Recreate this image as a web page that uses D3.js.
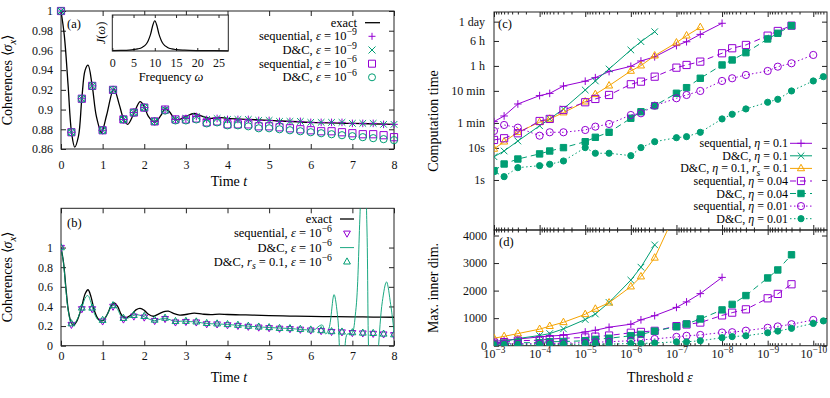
<!DOCTYPE html>
<html>
<head>
<meta charset="utf-8">
<script src="https://cdn.jsdelivr.net/npm/d3@7"></script>
<style>
  body { margin: 0; background: #fff; }
  svg { font-family: "Liberation Serif", "Times New Roman", serif; }
</style>
</head>
<body>
<div id="wrapper"></div>
<script>
// ---------- panel (a) ----------
const timeGrid = [0, 0.25, 0.5, 0.75, 1, 1.25, 1.5, 1.75, 2, 2.25, 2.5, 2.75, 3, 3.25, 3.5, 3.75, 4,
  4.25, 4.5, 4.75, 5, 5.25, 5.5, 5.75, 6, 6.25, 6.5, 6.75, 7, 7.25, 7.5, 7.75, 8]

const seqA9 = [1.0, 0.877, 0.911, 0.924, 0.879, 0.920, 0.890, 0.897, 0.902, 0.888, 0.900, 0.890, 0.891, 0.893,
  0.890, 0.891, 0.890, 0.890, 0.890, 0.889, 0.889, 0.888, 0.888, 0.888, 0.887, 0.887, 0.887, 0.887,
  0.886, 0.886, 0.886, 0.885, 0.885]
const dcA9 = [1.0, 0.877, 0.911, 0.924, 0.879, 0.920, 0.890, 0.897, 0.902, 0.888, 0.900, 0.890, 0.891, 0.893,
  0.890, 0.891, 0.890, 0.890, 0.890, 0.889, 0.889, 0.888, 0.888, 0.888, 0.887, 0.887, 0.887, 0.887,
  0.886, 0.886, 0.886, 0.885, 0.885]
const seqA6 = [1.0, 0.877, 0.911, 0.924, 0.879, 0.920, 0.890, 0.897, 0.902, 0.888, 0.900,
  0.890, 0.890, 0.891, 0.887, 0.888, 0.885, 0.885, 0.885, 0.883, 0.883, 0.882, 0.881, 0.880,
  0.879, 0.878, 0.878, 0.877, 0.876, 0.875, 0.875, 0.874, 0.872]
const dcA6 = [1.0, 0.877, 0.911, 0.924, 0.879, 0.920, 0.890, 0.897, 0.902, 0.888, 0.899,
  0.889, 0.889, 0.890, 0.886, 0.887, 0.884, 0.884, 0.883, 0.881, 0.881, 0.880, 0.879, 0.878,
  0.877, 0.876, 0.875, 0.874, 0.873, 0.872, 0.871, 0.870, 0.869]

const exactAT = [0, 0.08, 0.17, 0.25, 0.33, 0.42, 0.5, 0.58, 0.65, 0.75, 0.85, 0.97, 1.0, 1.1, 1.27, 1.4, 1.5,
  1.6, 1.75, 1.9, 2.0, 2.1, 2.25, 2.4, 2.5, 2.6, 2.75, 2.85, 3.0, 3.2, 3.4, 3.6, 3.8, 4.0, 4.5, 5, 6, 7, 8]
const exactAV = [1.0, 0.975, 0.925, 0.878, 0.862, 0.873, 0.911, 0.940, 0.945, 0.924, 0.893, 0.877, 0.879, 0.895,
  0.921, 0.905, 0.891, 0.885, 0.896, 0.908, 0.903, 0.893, 0.887, 0.894, 0.901, 0.898, 0.890, 0.890, 0.893,
  0.896, 0.893, 0.891, 0.892, 0.891, 0.890, 0.889, 0.887, 0.886, 0.885]

const specOmega = [0, 2, 4, 5, 6, 7, 8, 8.5, 9, 9.5, 10, 10.5, 11, 11.5, 12, 13, 14, 15, 17, 20, 24, 27.3]
const specJ = [0.01, 0.016, 0.027, 0.039, 0.059, 0.1, 0.195, 0.3, 0.46, 0.7, 0.84, 0.7, 0.46, 0.3, 0.195,
  0.1, 0.059, 0.039, 0.022, 0.012, 0.008, 0.006]

// ---------- panel (b) ----------
const seqB6 = [1.0, 0.215, 0.375, 0.375, 0.25, 0.40, 0.27, 0.30, 0.29, 0.255, 0.275, 0.24, 0.245, 0.24, 0.222,
  0.22, 0.212, 0.205, 0.196, 0.188, 0.182, 0.176, 0.172, 0.166, 0.158, 0.152, 0.143, 0.139, 0.132, 0.128,
  0.124, 0.118, 0.111]
const dcRsB6 = [1.0, 0.225, 0.385, 0.385, 0.26, 0.41, 0.28, 0.31, 0.30, 0.262, 0.282, 0.248, 0.25, 0.244, 0.228,
  0.224, 0.217, 0.21, 0.2, 0.192, 0.186, 0.178, 0.176, 0.168, 0.162, 0.155, 0.145, 0.141, 0.134, 0.13,
  0.127, 0.12, 0.113]

const exactBT = [0, 0.06, 0.12, 0.18, 0.25, 0.3, 0.38, 0.5, 0.58, 0.65, 0.72, 0.8, 0.9, 1.0, 1.1, 1.2, 1.28,
  1.36, 1.46, 1.56, 1.7, 1.8, 1.9, 2.0, 2.1, 2.22, 2.35, 2.5, 2.58, 2.7, 2.85, 3.0, 3.2, 3.4, 3.6, 3.8,
  4.0, 4.3, 4.6, 5.0, 5.5, 6.0, 6.5, 7.0, 7.5, 8.0]
const exactBV = [1, 0.85, 0.58, 0.35, 0.23, 0.21, 0.25, 0.40, 0.53, 0.57, 0.50, 0.36, 0.27, 0.255, 0.31, 0.40,
  0.435, 0.40, 0.31, 0.285, 0.32, 0.365, 0.38, 0.36, 0.32, 0.30, 0.325, 0.35, 0.352, 0.33, 0.312, 0.318,
  0.332, 0.322, 0.316, 0.322, 0.318, 0.314, 0.312, 0.306, 0.302, 0.299, 0.296, 0.294, 0.292, 0.29]

const dcBT = [0, 0.06, 0.12, 0.18, 0.25, 0.3, 0.38, 0.5, 0.6, 0.65, 0.72, 0.8, 0.9, 1.0, 1.1, 1.2, 1.27, 1.36,
  1.46, 1.56, 1.7, 1.8, 1.9, 2.0, 2.12, 2.25, 2.38, 2.5, 2.62, 2.75, 2.88, 3.0, 3.12, 3.25, 3.5, 3.75, 4.0,
  4.5, 5.0, 5.5, 6.0, 6.1, 6.2, 6.28, 6.36, 6.44, 6.56, 6.65, 6.73, 6.8, 6.88, 6.98, 7.08, 7.18, 7.27,
  7.35, 7.43, 7.52, 7.62, 7.72, 7.82, 7.92, 8.0]
const dcBV = [1, 0.84, 0.56, 0.34, 0.225, 0.215, 0.26, 0.39, 0.5, 0.51, 0.44, 0.33, 0.26, 0.255, 0.31, 0.39,
  0.41, 0.37, 0.29, 0.275, 0.3, 0.315, 0.31, 0.295, 0.27, 0.255, 0.27, 0.28, 0.265, 0.245, 0.25, 0.25,
  0.245, 0.242, 0.226, 0.222, 0.216, 0.199, 0.185, 0.175, 0.16, 0.165, 0.2, 0.21, 0.12, 0.18, 0.52, 0.28,
  -0.2, -0.1, 0.12, 0.12, 0.35, 1.3, 2.4, 1.2, -0.4, -0.6, -0.05, 0.45, 0.65, 0.42, 0.15]

// ---------- panels (c) and (d) ----------
const epsGrid = [1e-3, 6e-4, 3e-4, 1e-4, 6e-5, 3e-5, 1e-5, 6e-6, 3e-6, 1e-6, 6e-7, 3e-7, 1e-7, 6e-8, 3e-8,
  1e-8, 6e-9, 3e-9, 1e-9, 6e-10, 3e-10, 1e-10, 6e-11]

// computation time in seconds
const timeSeq01 = [66, 99, 234, 427, 501, 851, 1202, 1549, 2399, 3500, 5129, 6918, 15488, 20417, 34674, 76913]
const timeDc01 = [5.3, 8.0, 16.4, 49, 80, 164, 640, 1222, 2891, 11324, 20512, 42073]
const timeDcRs01 = [9.3, 15.6, 30.7, 63, 80, 126, 277, 470, 871, 2506, 3673, 7516, 19099, 31623, 57810]
const timeSeq004 = [17.7, 20, 28.6, 69, 80, 152, 265, 336, 447, 964, 1164, 1663, 3177, 3855, 4898, 8933,
  12794, 16218, 31623, 44260, 64736]
const timeDc004 = [1.95, 3.15, 4.5, 6.5, 8.0, 10.2, 15.6, 21.4, 30.7, 84, 134, 207, 505, 755, 1483, 3855,
  5520, 9311, 24946, 37500, 64736]
const timeSeq001 = [33.7, 51.9, 42.8, 24, 30.7, 30.7, 36.2, 46, 55.7, 106, 120, 207, 353, 447, 596, 1222,
  1483, 1879, 2506, 3412, 4355, 7907]
const timeDc001 = [1.82, 1.27, 2.42, 2.79, 3.09, 3.91, 10.2, 6.81, 6.81, 5.73, 10.2, 15.6, 20.8, 22.4, 30.7,
  80, 112, 164, 265, 328, 596, 1222, 1663]

// maximal inner dimension
const dimSeq01 = [150, 200, 240, 320, 350, 380, 500, 560, 670, 780, 940, 1090, 1390, 1590, 1890, 2480]
const dimDc01 = [90, 150, 260, 370, 440, 610, 950, 1150, 1570, 2380, 2850, 3660]
const dimDcRs01 = [270, 340, 440, 600, 710, 850, 1140, 1335, 1560, 2145, 2509, 3190, 4900, 5800, 7000]
const dimSeq004 = [110, 130, 180, 200, 240, 270, 300, 330, 370, 470, 500, 540, 710, 770, 840, 1100, 1200,
  1320, 1720, 1880, 2230]
const dimDc004 = [60, 85, 110, 110, 145, 150, 180, 230, 270, 360, 410, 530, 690, 790, 970, 1300, 1500, 1820,
  2460, 2750, 3300]
const dimSeq001 = [60, 70, 70, 75, 85, 90, 110, 125, 145, 180, 210, 245, 320, 360, 390, 480, 490, 545, 650,
  700, 780, 935]
const dimDc001 = [20, 25, 30, 35, 40, 45, 55, 55, 55, 80, 80, 100, 140, 140, 180, 290, 330, 360, 470, 530,
  630, 810, 900]

const timeTicks = [1, 10, 60, 600, 3600, 21600, 86400]
const timeTickLabels = ["1s", "10s", "1 min", "10 min", "1 h", "6 h", "1 day"]
const epsTicks = [1e-3, 1e-4, 1e-5, 1e-6, 1e-7, 1e-8, 1e-9, 1e-10]
const epsTickExp = ["−3", "−4", "−5", "−6", "−7", "−8", "−9", "−10"]

// ---------- drawing ----------
const purple = "#9400d3", green = "#009e73", orange = "#f5a300"
const fsTick = 12, fsLeg = 12.5, fsLegC = 12, fsTitle = 14

const svg = d3.select("#wrapper").append("svg")
  .attr("width", 830)
  .attr("height", 398)

svg.append("rect").attr("width", 830).attr("height", 398).attr("fill", "white")

// text with italic / sub / superscript parts
function rich(sel, parts, size) {
  let shift = 0
  parts.forEach(p => {
    const [s, k] = typeof p === "string" ? [p, ""] : p
    const sup = k === "sup", sub = k === "sub" || k === "isub"
    const target = sup ? -0.42 * size : sub ? 0.28 * size : 0
    const ts = sel.append("tspan").text(s).attr("dy", target - shift)
    shift = target
    if (k === "i" || k === "isub") ts.style("font-style", "italic")
    if (sup || sub) ts.attr("font-size", size * 0.78)
  })
  return sel
}

function symPath(type, s) {
  switch (type) {
    case "plus": return `M${-s},0H${s}M0,${-s}V${s}`
    case "cross": return `M${-s},${-s}L${s},${s}M${-s},${s}L${s},${-s}`
    case "sq": case "sqf": return `M${-s},${-s}H${s}V${s}H${-s}Z`
    case "circ": case "circf": return `M${s},0A${s},${s} 0 1,1 ${-s},0A${s},${s} 0 1,1 ${s},0Z`
    case "tri": return `M0,${-s * 1.15}L${s},${s * 0.65}L${-s},${s * 0.65}Z`
    case "trid": return `M0,${s * 1.15}L${s},${-s * 0.65}L${-s},${-s * 0.65}Z`
  }
}

function drawMarks(g, pts, type, color, s) {
  g.append("g").selectAll("path").data(pts).join("path")
    .attr("transform", d => `translate(${d[0]},${d[1]})`)
    .attr("d", symPath(type, s))
    .attr("fill", type.endsWith("f") ? color : "none")
    .attr("stroke", color)
    .attr("stroke-width", 1)
}

function styleAxis(g) {
  g.attr("font-family", null).attr("font-size", fsTick)
  g.select(".domain").remove()
  g.selectAll(".tick line").attr("stroke", "#222")
  g.selectAll(".tick text").attr("fill", "#111")
}

function frame(g, x, y) {
  const [x0, x1] = x.range(), [yb, yt] = y.range()
  g.append("rect")
    .attr("x", x0).attr("y", yt)
    .attr("width", x1 - x0).attr("height", yb - yt)
    .attr("fill", "none").attr("stroke", "#222").attr("stroke-width", 1)
}

function clipFor(id, x, y) {
  const [x0, x1] = x.range(), [yb, yt] = y.range()
  svg.append("clipPath").attr("id", id).append("rect")
    .attr("x", x0).attr("y", yt).attr("width", x1 - x0).attr("height", yb - yt)
  return `url(#${id})`
}

function yLabel(x, y, parts) {
  rich(svg.append("text")
    .attr("transform", `translate(${x},${y}) rotate(-90)`)
    .attr("text-anchor", "middle")
    .attr("font-size", fsTitle), parts, fsTitle)
}

function xLabel(x, y, parts, size = fsTitle) {
  rich(svg.append("text").attr("x", x).attr("y", y)
    .attr("text-anchor", "middle").attr("font-size", size), parts, size)
}

function legendText(x, y, parts, size = fsLeg) {
  rich(svg.append("text").attr("x", x).attr("y", y).attr("text-anchor", "end")
    .attr("font-size", size), parts, size)
}

function linearAxes(x, y, xt, yt, yfmt, xpad) {
  svg.append("g").attr("transform", `translate(0,${y.range()[0]})`)
    .call(d3.axisBottom(x).tickValues(xt).tickSize(-5).tickPadding(xpad).tickFormat(d3.format("d")))
    .call(styleAxis)
  svg.append("g").attr("transform", `translate(0,${y.range()[1]})`)
    .call(d3.axisTop(x).tickValues(xt).tickSize(-5).tickFormat(""))
    .call(styleAxis)
  svg.append("g").attr("transform", `translate(${x.range()[0]},0)`)
    .call(d3.axisLeft(y).tickValues(yt).tickSize(-5).tickPadding(8).tickFormat(yfmt))
    .call(styleAxis)
  svg.append("g").attr("transform", `translate(${x.range()[1]},0)`)
    .call(d3.axisRight(y).tickValues(yt).tickSize(-5).tickFormat(""))
    .call(styleAxis)
}

const trimFmt = d => String(+d.toFixed(2))

// ===== panel (a) =====
const xA = d3.scaleLinear().domain([0, 8]).range([61, 394])
const yA = d3.scaleLinear().domain([0.86, 1.0]).range([149, 11])
linearAxes(xA, yA, d3.range(0, 9), [0.86, 0.88, 0.9, 0.92, 0.94, 0.96, 0.98, 1], trimFmt, 11)
frame(svg, xA, yA)

const gA = svg.append("g")
gA.append("path")
  .attr("d", d3.line().curve(d3.curveCatmullRom.alpha(0.5))
    .x(d => xA(d[0])).y(d => yA(d[1]))(exactAT.map((t, i) => [t, exactAV[i]])))
  .attr("fill", "none").attr("stroke", "#000").attr("stroke-width", 1.3)

drawMarks(gA, timeGrid.map((t, i) => [xA(t), yA(seqA6[i])]), "sq", purple, 3.6)
drawMarks(gA, timeGrid.map((t, i) => [xA(t), yA(dcA6[i])]), "circ", green, 3.6)
drawMarks(gA, timeGrid.map((t, i) => [xA(t), yA(seqA9[i])]), "plus", purple, 3.8)
drawMarks(gA, timeGrid.map((t, i) => [xA(t), yA(dcA9[i])]), "cross", green, 3.3)

svg.append("text").attr("x", 67).attr("y", 28).attr("font-size", fsLeg).text("(a)")

// inset
const xI = d3.scaleLinear().domain([0, 27.3]).range([112.3, 228.3])
const yI = d3.scaleLinear().domain([0, 1]).range([51, 15])
svg.append("rect").attr("x", 112.3).attr("y", 15).attr("width", 116).attr("height", 36).attr("fill", "white")
svg.append("g").attr("transform", "translate(0,51)")
  .call(d3.axisBottom(xI).tickValues([0, 5, 10, 15, 20, 25]).tickSize(-3).tickPadding(7))
  .call(styleAxis)
svg.append("g").attr("transform", "translate(0,15)")
  .call(d3.axisTop(xI).tickValues([0, 5, 10, 15, 20, 25]).tickSize(-3).tickFormat(""))
  .call(styleAxis)
svg.append("path")
  .attr("d", d3.line().curve(d3.curveMonotoneX).x((d, i) => xI(specOmega[i])).y(d => yI(d))(specJ))
  .attr("fill", "none").attr("stroke", "#000").attr("stroke-width", 1.2)
frame(svg, xI, yI)
xLabel(171, 81, ["Frequency ", ["ω", "i"]], fsLeg)
rich(svg.append("text").attr("transform", "translate(105,33) rotate(-90)")
  .attr("text-anchor", "middle").attr("font-size", fsLeg), [["J", "i"], "(", ["ω", "i"], ")"], fsLeg)

// legend (a)
const legA = [
  { parts: ["exact"], line: "#000" },
  { parts: ["sequential, ", ["ε", "i"], " = 10", ["−9", "sup"]], mark: "plus", color: purple },
  { parts: ["D&C, ", ["ε", "i"], " = 10", ["−9", "sup"]], mark: "cross", color: green },
  { parts: ["sequential, ", ["ε", "i"], " = 10", ["−6", "sup"]], mark: "sq", color: purple },
  { parts: ["D&C, ", ["ε", "i"], " = 10", ["−6", "sup"]], mark: "circ", color: green },
]
const legAY = [22.7, 36.3, 50, 63.7, 77.3]
legA.forEach((d, i) => {
  legendText(357, legAY[i] + 4, d.parts)
  if (d.line) svg.append("line").attr("x1", 365).attr("x2", 380).attr("y1", legAY[i]).attr("y2", legAY[i])
    .attr("stroke", d.line).attr("stroke-width", 1.3)
  if (d.mark) drawMarks(svg, [[372, legAY[i]]], d.mark, d.color, 3.5)
})

yLabel(12, 80, ["Coherences ⟨", ["σ", "i"], ["x", "isub"], "⟩"])
xLabel(229, 186, ["Time ", ["t", "i"]])

// ===== panel (b) =====
const xB = d3.scaleLinear().domain([0, 8]).range([61, 394])
const yB = d3.scaleLinear().domain([0, 1.4]).range([345.7, 208.3])
linearAxes(xB, yB, d3.range(0, 9), [0, 0.2, 0.4, 0.6, 0.8, 1], trimFmt, 6)
frame(svg, xB, yB)

const gB = svg.append("g").attr("clip-path", clipFor("clipB", xB, yB))
gB.append("path")
  .attr("d", d3.line().curve(d3.curveCatmullRom.alpha(0.5))
    .x(d => xB(d[0])).y(d => yB(d[1]))(exactBT.map((t, i) => [t, exactBV[i]])))
  .attr("fill", "none").attr("stroke", "#000").attr("stroke-width", 1.3)
gB.append("path")
  .attr("d", d3.line().curve(d3.curveCatmullRom.alpha(0.5))
    .x(d => xB(d[0])).y(d => yB(d[1]))(dcBT.map((t, i) => [t, dcBV[i]])))
  .attr("fill", "none").attr("stroke", green).attr("stroke-width", 0.9)
drawMarks(gB, timeGrid.map((t, i) => [xB(t), yB(seqB6[i])]), "trid", purple, 3.4)
drawMarks(gB, timeGrid.map((t, i) => [xB(t), yB(dcRsB6[i])]), "tri", green, 3.4)

svg.append("text").attr("x", 67).attr("y", 227).attr("font-size", fsLeg).text("(b)")

const legB = [
  { parts: ["exact"], line: "#000", lw: 1.3 },
  { parts: ["sequential, ", ["ε", "i"], " = 10", ["−6", "sup"]], mark: "trid", color: purple },
  { parts: ["D&C, ", ["ε", "i"], " = 10", ["−6", "sup"]], line: green, lw: 0.9 },
  { parts: ["D&C, ", ["r", "i"], ["s", "isub"], " = 0.1, ", ["ε", "i"], " = 10", ["−6", "sup"]], mark: "tri", color: green },
]
const legBY = [219, 233.3, 247.6, 261.8]
legB.forEach((d, i) => {
  legendText(332, legBY[i] + 4, d.parts)
  if (d.line) svg.append("line").attr("x1", 340).attr("x2", 354).attr("y1", legBY[i]).attr("y2", legBY[i])
    .attr("stroke", d.line).attr("stroke-width", d.lw)
  if (d.mark) drawMarks(svg, [[347, legBY[i]]], d.mark, d.color, 3.4)
})

yLabel(12, 277, ["Coherences ⟨", ["σ", "i"], ["x", "isub"], "⟩"])
xLabel(229, 382, ["Time ", ["t", "i"]])

// ===== panels (c) and (d) =====
const xE = d3.scaleLog().domain([1e-3, 5e-11]).range([494, 827])
const yC = d3.scaleLog().domain([0.02754, 172800]).range([230, 12])
const yD = d3.scaleLinear().domain([0, 4200]).range([345.7, 230])

const minorEps = []
for (let e = -11; e <= -4; e++) {
  for (let m = 2; m <= 9; m++) {
    const v = m * Math.pow(10, e)
    if (v <= 1e-3 && v >= 5e-11) minorEps.push(v)
  }
}

function epsTicksAt(yPos, dir, withLabels) {
  const major = dir === "up" ? d3.axisBottom(xE).tickSize(-5) : d3.axisTop(xE).tickSize(-5)
  const g = svg.append("g").attr("transform", `translate(0,${yPos})`)
    .call(major.tickValues(epsTicks).tickFormat(""))
    .call(styleAxis)
  const minor = dir === "up" ? d3.axisBottom(xE).tickSize(-2.5) : d3.axisTop(xE).tickSize(-2.5)
  svg.append("g").attr("transform", `translate(0,${yPos})`)
    .call(minor.tickValues(minorEps).tickFormat(""))
    .call(styleAxis)
  if (withLabels) {
    g.selectAll(".tick text").each(function (d, i) {
      const t = d3.select(this).text("").attr("y", 12).attr("dy", null)
      rich(t, ["10", [epsTickExp[i], "sup"]], fsTick)
    })
  }
}

// (c) frame and axes
epsTicksAt(12, "down", false)
epsTicksAt(230, "up", false)
svg.append("g").attr("transform", "translate(494,0)")
  .call(d3.axisLeft(yC).tickValues(timeTicks).tickSize(-5).tickPadding(9).tickFormat((d, i) => timeTickLabels[i]))
  .call(styleAxis)
svg.append("g").attr("transform", "translate(827,0)")
  .call(d3.axisRight(yC).tickValues(timeTicks).tickSize(-5).tickFormat(""))
  .call(styleAxis)
frame(svg, xE, yC)

// (d) frame and axes
epsTicksAt(230, "down", false)
epsTicksAt(345.7, "up", true)
svg.append("g").attr("transform", "translate(494,0)")
  .call(d3.axisLeft(yD).tickValues([0, 1000, 2000, 3000, 4000]).tickSize(-5).tickPadding(7).tickFormat(d3.format("d")))
  .call(styleAxis)
svg.append("g").attr("transform", "translate(827,0)")
  .call(d3.axisRight(yD).tickValues([0, 1000, 2000, 3000, 4000]).tickSize(-5).tickFormat(""))
  .call(styleAxis)
frame(svg, xE, yD)

const seriesCD = [
  { time: timeSeq01, dim: dimSeq01, color: purple, mark: "plus", s: 3.8, dash: null,
    parts: ["sequential, ", ["η", "i"], " = 0.1"] },
  { time: timeDc01, dim: dimDc01, color: green, mark: "cross", s: 3.3, dash: null,
    parts: ["D&C, ", ["η", "i"], " = 0.1"] },
  { time: timeDcRs01, dim: dimDcRs01, color: orange, mark: "tri", s: 3.6, dash: null,
    parts: ["D&C, ", ["η", "i"], " = 0.1, ", ["r", "i"], ["s", "isub"], " = 0.1"] },
  { time: timeSeq004, dim: dimSeq004, color: purple, mark: "sq", s: 3.6, dash: "6,4",
    parts: ["sequential, ", ["η", "i"], " = 0.04"] },
  { time: timeDc004, dim: dimDc004, color: green, mark: "sqf", s: 3.2, dash: "6,4",
    parts: ["D&C, ", ["η", "i"], " = 0.04"] },
  { time: timeSeq001, dim: dimSeq001, color: purple, mark: "circ", s: 3.6, dash: "1.5,2.5",
    parts: ["sequential, ", ["η", "i"], " = 0.01"] },
  { time: timeDc001, dim: dimDc001, color: green, mark: "circf", s: 3.1, dash: "1.5,2.5",
    parts: ["D&C, ", ["η", "i"], " = 0.01"] },
]

const gC = svg.append("g").attr("clip-path", clipFor("clipC", xE, yC))
const gD = svg.append("g").attr("clip-path", clipFor("clipD", xE, yD))

seriesCD.forEach(sr => {
  const ptsC = sr.time.map((v, i) => [xE(epsGrid[i]), yC(v)])
  const ptsD = sr.dim.map((v, i) => [xE(epsGrid[i]), yD(v)])
  gC.append("path").attr("d", d3.line()(ptsC))
    .attr("fill", "none").attr("stroke", sr.color).attr("stroke-width", 1)
    .attr("stroke-dasharray", sr.dash)
  drawMarks(gC, ptsC, sr.mark, sr.color, sr.s)
  gD.append("path").attr("d", d3.line()(ptsD))
    .attr("fill", "none").attr("stroke", sr.color).attr("stroke-width", 1)
    .attr("stroke-dasharray", sr.dash)
  drawMarks(gD, ptsD, sr.mark, sr.color, sr.s)
})

// legend (c)
const legCY = [143.3, 155.8, 168.4, 181, 193.5, 206.1, 218.7]
seriesCD.forEach((sr, i) => {
  legendText(788, legCY[i] + 4, sr.parts, fsLegC)
  svg.append("line").attr("x1", 790).attr("x2", 812).attr("y1", legCY[i]).attr("y2", legCY[i])
    .attr("stroke", sr.color).attr("stroke-width", 1).attr("stroke-dasharray", sr.dash)
  drawMarks(svg, [[801, legCY[i]]], sr.mark, sr.color, sr.s)
})

svg.append("text").attr("x", 498).attr("y", 28).attr("font-size", fsLeg).text("(c)")
svg.append("text").attr("x", 499).attr("y", 246).attr("font-size", fsLeg).text("(d)")

yLabel(438, 121, ["Computation time"])
yLabel(438, 288, ["Max. inner dim."])
xLabel(660, 382, ["Threshold ", ["ε", "i"]])
</script>
</body>
</html>
